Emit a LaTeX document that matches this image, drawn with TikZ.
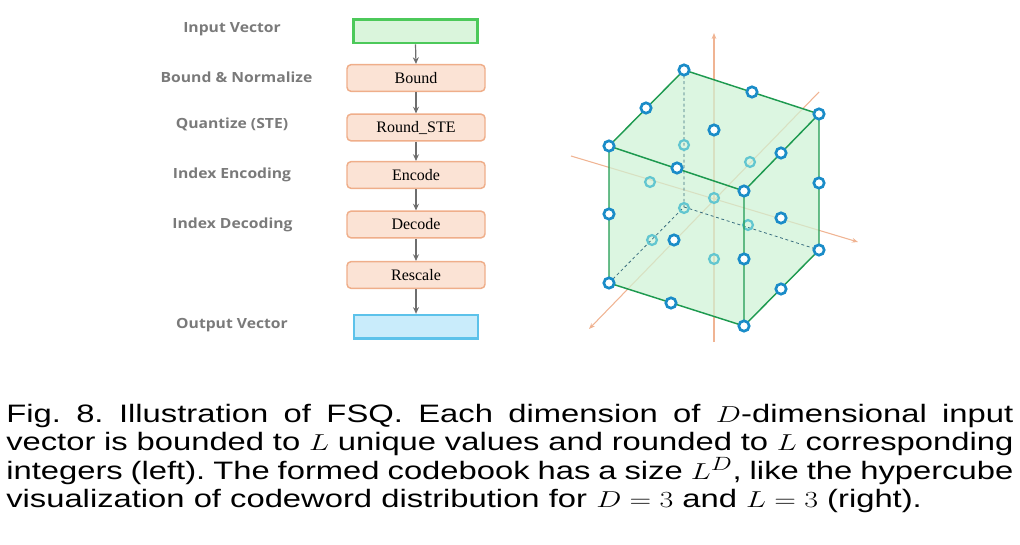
\documentclass[tikz,border=0pt]{standalone}
\usepackage{fontspec}
\setmainfont{Liberation Sans}
\newfontfamily\lblfont{Open Sans}
\newfontfamily\boxfont{Liberation Serif}
\usetikzlibrary{arrows.meta}
\definecolor{lblgray}{HTML}{7A7A7A}
\definecolor{ingreen}{HTML}{4CC95A}
\definecolor{ingreenfill}{HTML}{DAF5DC}
\definecolor{peachfill}{HTML}{FBE3D5}
\definecolor{peachline}{HTML}{EFAE8A}
\definecolor{outfill}{HTML}{C9ECFB}
\definecolor{outline}{HTML}{5CC2EA}
\definecolor{arrgray}{HTML}{6E6E6E}
\definecolor{cubefillc}{HTML}{CFF2D5}
\definecolor{cubeedge}{HTML}{1E9A50}
\definecolor{hiddenedge}{HTML}{3A6F80}
\definecolor{axisc}{HTML}{F0B493}
\definecolor{dotdark}{HTML}{1A8CC8}
\definecolor{dotlight}{HTML}{62C6D0}
\newlength\capw
\setlength\capw{581pt}
\setlength\lineskiplimit{-50pt}
\setlength\lineskip{0pt}
\newcommand\widelbl[1]{\scalebox{1.12}[1]{#1}}
\tikzset{
  lbl/.style={font=\lblfont\bfseries\fontsize{10.5}{12}\selectfont, text=lblgray, inner sep=0pt},
  stagebox/.style={draw=peachline, fill=peachfill, line width=1.1pt, rounded corners=3pt, minimum width=103.5pt, minimum height=20pt, font=\boxfont\fontsize{12}{14}\selectfont, inner sep=0pt},
  inbox/.style={draw=ingreen, fill=ingreenfill, line width=2pt, minimum width=93pt, minimum height=17.5pt, inner sep=0pt},
  outbox/.style={draw=outline, fill=outfill, line width=2pt, minimum width=93pt, minimum height=17.5pt, inner sep=0pt},
  flowarrow/.style={draw=arrgray, line width=0.9pt, -{Stealth[length=5pt,width=4.5pt]}},
  axis/.style={draw=axisc, line width=0.8pt, -{Stealth[length=4.5pt,width=3.5pt]}},
  visedge/.style={draw=cubeedge, line width=1.1pt, line join=round},
  hidedge/.style={draw=hiddenedge, line width=0.6pt, dashed, dash pattern=on 2.2pt off 2pt},
  dotd/.style={draw=dotdark, fill=white, line width=2pt},
  dotl/.style={draw=dotlight, line width=1.7pt},
  captext/.style={anchor=base west, inner sep=0pt},
}
\begin{document}
\begin{tikzpicture}[x=0.75pt,y=-0.75pt]
\useasboundingbox (0,0) rectangle (1020,545);
% ---------------- flowchart ----------------
\node[inbox] (in) at (415.5,31.3) {};
\node[stagebox] (bound) at (416,78) {Bound};
\node[stagebox] (round) at (416,127.5) {Round\_STE};
\node[stagebox] (enc) at (416,175) {Encode};
\node[stagebox] (dec) at (416,224.5) {Decode};
\node[stagebox] (resc) at (416,275) {Rescale};
\node[outbox] (out) at (416,326.8) {};
\draw[flowarrow] (in.south) -- (bound.north);
\draw[flowarrow] (bound.south) -- (round.north);
\draw[flowarrow] (round.south) -- (enc.north);
\draw[flowarrow] (enc.south) -- (dec.north);
\draw[flowarrow] (dec.south) -- (resc.north);
\draw[flowarrow] (resc.south) -- (out.north);
\node[lbl] (l1) at (232,29.5) {\widelbl{Input Vector}};
\node[lbl] (l2) at (236.5,77.5) {\widelbl{Bound \& Normalize}};
\node[lbl] (l3) at (232,124.5) {\widelbl{Quantize (STE)}};
\node[lbl] (l4) at (232,174.5) {\widelbl{Index Encoding}};
\node[lbl] (l5) at (232.5,224.5) {\widelbl{Index Decoding}};
\node[lbl] (l6) at (232,325.5) {\widelbl{Output Vector}};
% ---------------- cube ----------------
\coordinate (A) at (609,146);
\coordinate (B) at (744,191);
\coordinate (C) at (744,326);
\coordinate (D) at (609,283);
\coordinate (E) at (684,70);
\coordinate (F) at (819,114);
\coordinate (G) at (819,250);
\coordinate (H) at (684,207);
% axes
\coordinate (zb) at (714,342);
\coordinate (zt) at (714,33);
\coordinate (xl) at (571,156);
\coordinate (xr) at (858,242);
\coordinate (yt) at (819,92);
\coordinate (yb) at (589,329);
\draw[axis] (zb) -- (zt);
\draw[axis] (xl) -- (xr);
\draw[axis] (yt) -- (yb);
% cube faces
\fill[cubefillc, fill opacity=0.72] (A) -- (E) -- (F) -- (G) -- (C) -- (D) -- cycle;
% hidden edges
\draw[hidedge] (E) -- (H) -- (D);
\draw[hidedge] (H) -- (G);
% hidden points
\foreach \p in {(684,145),(750,162),(650,182),(714,198),(684,208),(652,240),(748,225),(714,259)}
  \draw[dotl] \p circle (4.9);
% visible edges
\draw[visedge] (A) -- (B) -- (C) -- (D) -- cycle;
\draw[visedge] (A) -- (E) -- (F) -- (B);
\draw[visedge] (F) -- (G) -- (C);
% visible points
\foreach \p in {(609,146),(744,191),(684,70),(819,114),(609,283),(744,326),(819,250),
  (677,168),(752,92),(646,108),(781,153),(609,214),(744,259),(819,183),(671,303),(781,289),
  (714,130),(674,240),(781,218)}
  \draw[dotd] \p circle (5.2);
% ---------------- caption ----------------
\node[captext] (cap) at (6,422)
 {\scalebox{1.30}[1]{\parbox[t]{\capw}{\fontsize{18.9}{21.4}\selectfont\frenchspacing
  \makebox[\capw][s]{Fig. 8. Illustration of FSQ. Each dimension of $D$-dimensional input}\\
  \makebox[\capw][s]{vector is bounded to $L$ unique values and rounded to $L$ corresponding}\\
  \makebox[\capw][s]{integers (left). The formed codebook has a size $L^D$, like the hypercube}\\
  \makebox[\capw][l]{visualization of codeword distribution for $D=3$ and $L=3$ (right).}}}};
\end{tikzpicture}
\end{document}
